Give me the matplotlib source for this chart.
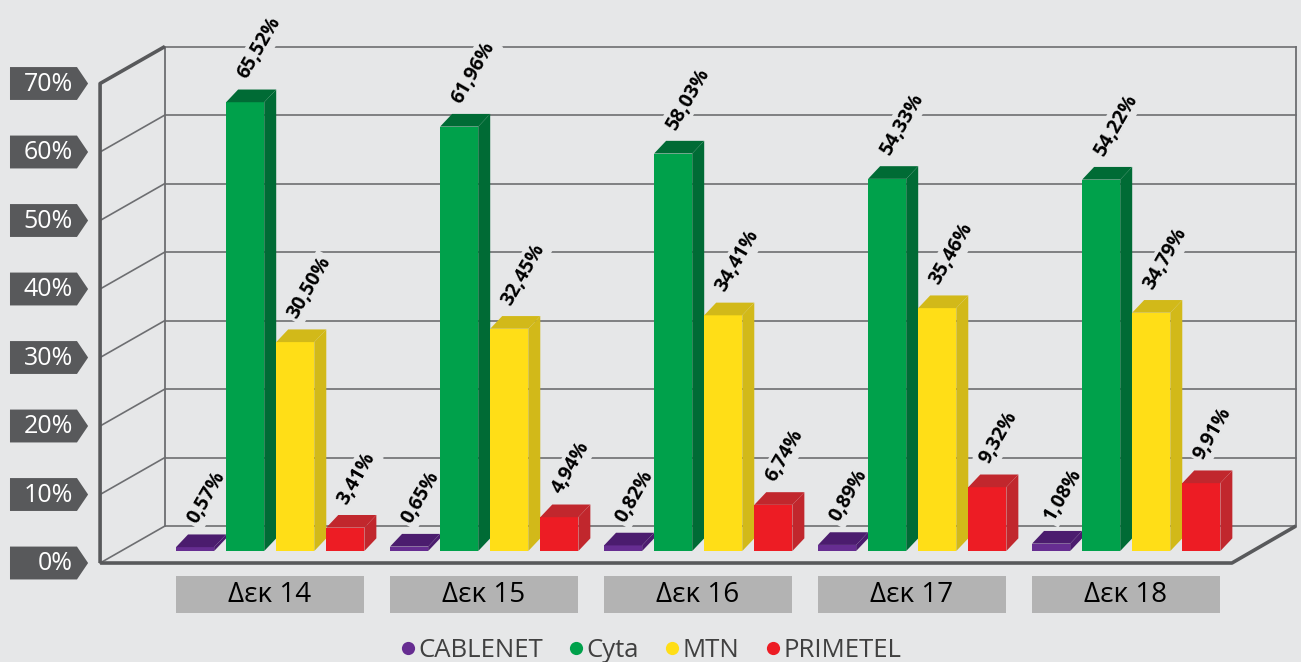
import matplotlib.pyplot as plt
from matplotlib.patches import Polygon, Rectangle
from matplotlib.lines import Line2D

plt.rcParams['font.family'] = ['Open Sans', 'DejaVu Sans']

# data
months = ['Δεκ 14', 'Δεκ 15', 'Δεκ 16', 'Δεκ 17', 'Δεκ 18']
series = ['CABLENET', 'Cyta', 'MTN', 'PRIMETEL']
cablenet = [0.57, 0.65, 0.82, 0.89, 1.08]
cyta = [65.52, 61.96, 58.03, 54.33, 54.22]
mtn = [30.50, 32.45, 34.41, 35.46, 34.79]
primetel = [3.41, 4.94, 6.74, 9.32, 9.91]
yticks = [0, 10, 20, 30, 40, 50, 60, 70]

values = [cablenet, cyta, mtn, primetel]
# front, side, top colours per series
colors = [('#662d91', '#4b1c6e', '#4b1c6e'),
          ('#00a14b', '#006b35', '#006b35'),
          ('#ffde17', '#d2b919', '#d2b919'),
          ('#ed1c24', '#c1272d', '#c1272d')]

bg = '#e6e7e8'
grid_c = '#6d6e71'
edge_c = '#58595b'

fig = plt.figure(figsize=(13.01, 6.62), dpi=100, facecolor=bg)
ax = fig.add_axes([0, 0, 1, 1])
ax.set_facecolor(bg)
ax.set_xlim(-1.2617, 4.8178)
ax.set_ylim(-16.20, 80.44)
ax.axis('off')

# 3d box geometry (data units)
front_x0, front_x1, front_y = -0.794, 4.495, -1.75
back_x0, back_x1, back_y = -0.491, 4.794, 3.65
top = max(yticks)

# back wall gridlines + left wall diagonals
for g in yticks:
    ax.plot([back_x0, back_x1], [back_y + g, back_y + g], color=grid_c, lw=1.2, zorder=1)
    if g < top:
        ax.plot([front_x0, back_x0], [front_y + g, back_y + g], color=grid_c, lw=1.2, zorder=1)
ax.plot([back_x0, back_x0], [back_y, back_y + top], color=grid_c, lw=1.3, zorder=1)
ax.plot([back_x1, back_x1], [back_y, back_y + top], color=grid_c, lw=1.3, zorder=1)
# thick outer edges
ax.plot([front_x0, front_x0, back_x0], [front_y, front_y + top, back_y + top],
        color=edge_c, lw=2.6, zorder=1, solid_capstyle='butt')
ax.plot([front_x0, front_x1, back_x1], [front_y, front_y, back_y],
        color=edge_c, lw=2.6, zorder=1, solid_capstyle='butt')

# bars
bar_w = 0.178
pitch = 0.234
start = -0.439
ddx, ddy = 0.056, 1.85
for j, vals in enumerate(values):
    fc, sc, tc = colors[j]
    for i, v in enumerate(vals):
        x = i + start + j * pitch
        ax.add_patch(Rectangle((x, 0), bar_w, v, facecolor=fc, edgecolor='none', zorder=3))
        ax.add_patch(Polygon([(x + bar_w, 0), (x + bar_w + ddx, ddy), (x + bar_w + ddx, v + ddy),
                              (x + bar_w, v)], closed=True, facecolor=sc, edgecolor='none', zorder=3))
        ax.add_patch(Polygon([(x, v), (x + bar_w, v), (x + bar_w + ddx, v + ddy), (x + ddx, v + ddy)],
                             closed=True, facecolor=tc, edgecolor='none', zorder=3))
        lbl = f'{v:.2f}%'.replace('.', ',')
        ax.text(x + 0.118, v + 2.9, lbl, rotation=60, rotation_mode='anchor',
                ha='left', va='bottom', fontsize=14, fontweight='bold', color='black', zorder=2,
                bbox=dict(boxstyle='square,pad=0.15', fc=bg, ec='none'))

# category label boxes
for i, m in enumerate(months):
    ax.add_patch(Rectangle((i + start, -9.05), 2 * abs(start), 5.4, facecolor='#b3b3b3',
                           edgecolor='none', zorder=2))
    ax.text(i, -6.45, m, ha='center', va='center', fontsize=20, color='black', zorder=3)

# y tick arrow boxes
bx0, bx1, btip, bh = -1.215, -0.902, -0.850, 2.4
for g in yticks:
    yc = front_y + g
    ax.add_patch(Polygon([(bx0, yc - bh), (bx1, yc - bh), (btip, yc), (bx1, yc + bh), (bx0, yc + bh)],
                         closed=True, facecolor='#58595b', edgecolor='none', zorder=2))
    ax.text(bx1 - 0.02, yc - 0.1, f'{g}%', ha='right', va='center', fontsize=18, color='white', zorder=3)

# legend
handles = [Line2D([], [], marker='o', linestyle='none', markersize=9.5,
                  markerfacecolor=colors[k][0], markeredgecolor='none', label=s)
           for k, s in enumerate(series)]
leg = ax.legend(handles=handles, loc='center', bbox_to_anchor=(0.5, 0.018), ncol=4,
                frameon=False, handlelength=0.6, handletextpad=0.1, columnspacing=1.0,
                fontsize=18.5, borderaxespad=0)
for t in leg.get_texts():
    t.set_color('#404040')

fig.savefig('out.png', dpi=100, facecolor=bg)
